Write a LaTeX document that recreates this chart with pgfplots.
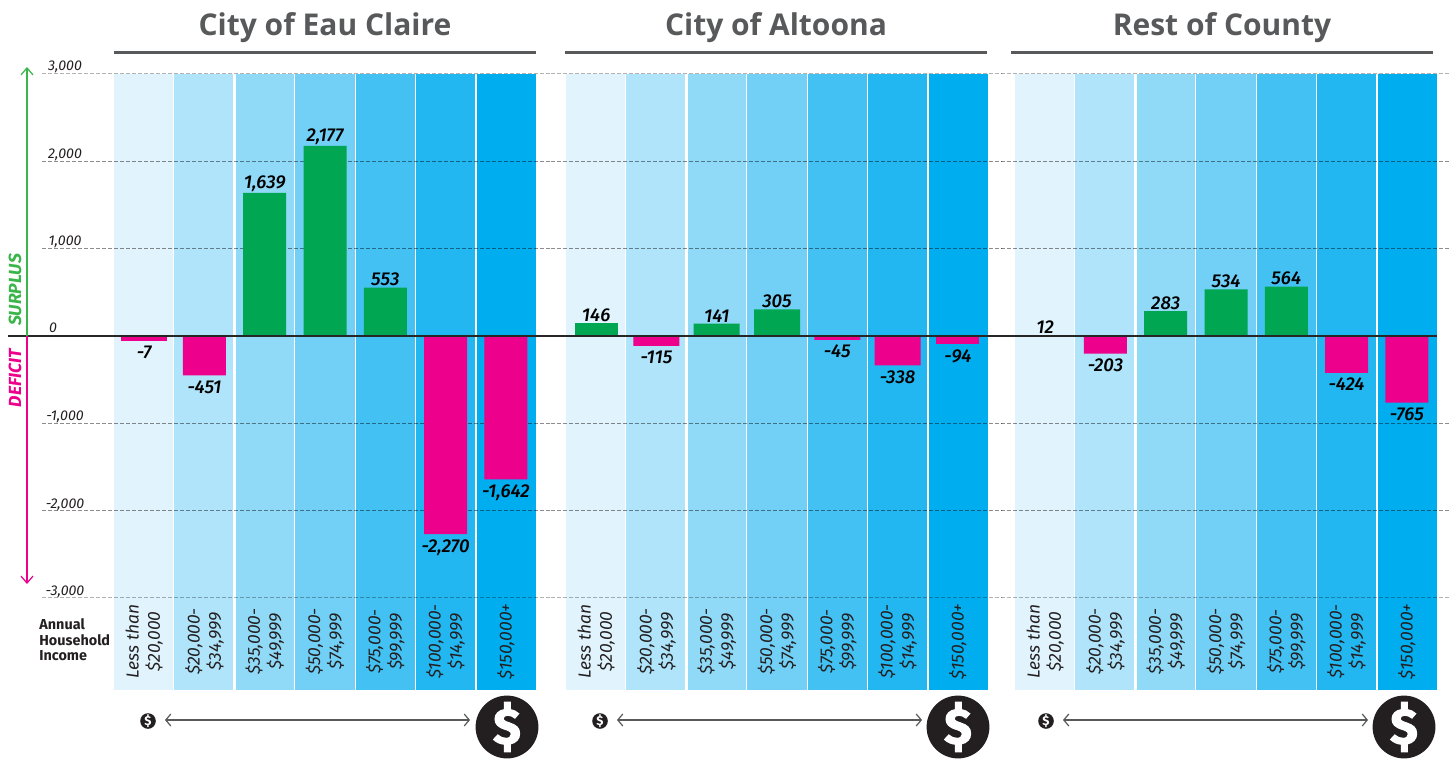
\documentclass[border=0pt]{standalone}
\usepackage{pgfplots}
\pgfplotsset{compat=1.18}
\usetikzlibrary{arrows.meta}
\usepackage{fontspec}
\setmainfont{Fira Sans}
\newfontfamily\titlefont{Open Sans}
\newfontfamily\valfont[ItalicFont={Fira Sans Medium Italic}]{Fira Sans Medium}
\newfontfamily\heavy[FakeBold=2.5]{Fira Sans}
\definecolor{c0}{HTML}{E1F4FD}
\definecolor{c1}{HTML}{B0E4FA}
\definecolor{c2}{HTML}{91DAF7}
\definecolor{c3}{HTML}{72CFF5}
\definecolor{c4}{HTML}{44C1F3}
\definecolor{c5}{HTML}{23B7F1}
\definecolor{c6}{HTML}{00AEEF}
\definecolor{gbar}{HTML}{00A651}
\definecolor{mbar}{HTML}{EC008C}
\definecolor{garrow}{HTML}{39B54A}
\definecolor{dk}{HTML}{58595B}
\definecolor{ink}{HTML}{231F20}
\pgfplotsset{
  panel/.style={
    anchor=south west, scale only axis, width=211pt, height=308pt,
    xmin=-0.5, xmax=6.5, ymin=-4055, ymax=3000,
    axis lines=none, clip=false,
  },
  col/.style={draw=none, fill=#1, forget plot, mark=none},
  gl/.style={black, opacity=0.45, line width=0.35pt, dash pattern=on 1.8pt off 1.2pt, forget plot, mark=none},
  gll/.style={black, opacity=0.3, line width=0.5pt, dash pattern=on 1.8pt off 1.2pt, forget plot, mark=none},
  vals/.style={
    ybar, bar shift=0pt, bar width=21.5pt, draw=none, fill=#1, forget plot, mark=none,
    point meta=explicit symbolic,
    nodes near coords={\pgfplotspointmeta},
    nodes near coords style={font=\fontsize{9.3}{10}\selectfont\valfont\itshape, black, inner sep=0.6pt, anchor=south},
  },
  neg/.style={
    vals=mbar,
    nodes near coords style={anchor=north, inner sep=2.4pt},
  },
}
\newcommand\columns{%
  \addplot[col=c0] coordinates {(-0.5,-4055)(0.48,-4055)(0.48,3000)(-0.5,3000)} --cycle;
  \addplot[col=c1] coordinates {(0.50,-4055)(1.48,-4055)(1.48,3000)(0.50,3000)} --cycle;
  \addplot[col=c2] coordinates {(1.52,-4055)(2.48,-4055)(2.48,3000)(1.52,3000)} --cycle;
  \addplot[col=c3] coordinates {(2.51,-4055)(3.49,-4055)(3.49,3000)(2.51,3000)} --cycle;
  \addplot[col=c4] coordinates {(3.52,-4055)(4.49,-4055)(4.49,3000)(3.52,3000)} --cycle;
  \addplot[col=c5] coordinates {(4.51,-4055)(5.49,-4055)(5.49,3000)(4.51,3000)} --cycle;
  \addplot[col=c6] coordinates {(5.52,-4055)(6.50,-4055)(6.50,3000)(5.52,3000)} --cycle;
}
\newcommand\grid[2]{%
  \addplot[gll] coordinates {(#1,3000)(#2,3000)};
  \addplot[gl] coordinates {(#1,2000)(#2,2000)};
  \addplot[gl] coordinates {(#1,1000)(#2,1000)};
  \addplot[gl] coordinates {(#1,-1000)(#2,-1000)};
  \addplot[gl] coordinates {(#1,-2000)(#2,-2000)};
  \addplot[gll] coordinates {(#1,-3000)(#2,-3000)};
}
\newcommand\inclabels{%
  \node[lab] at (axis cs:0,-3500) {Less than\\\$20,000};
  \node[lab] at (axis cs:1,-3500) {\$20,000-\\\$34,999};
  \node[lab] at (axis cs:2,-3500) {\$35,000-\\\$49,999};
  \node[lab] at (axis cs:3,-3500) {\$50,000-\\\$74,999};
  \node[lab] at (axis cs:4,-3500) {\$75,000-\\\$99,999};
  \node[lab] at (axis cs:5,-3500) {\$100,000-\\\$14,999};
  \node[lab] at (axis cs:6,-3500) {\$150,000+};
}
\tikzset{lab/.style={rotate=90, align=center, font=\fontsize{8.7}{10.6}\selectfont\itshape, text=ink, inner sep=0pt}}
\begin{document}
\begin{tikzpicture}
\useasboundingbox (0,0) rectangle (725pt,-379.5pt);
% Eau Claire
\begin{axis}[panel, at={(57pt,-345pt)}]
  \columns
  \grid{-1.694}{6.749}
  \addplot[vals=gbar] coordinates {(2,1639)[1,639] (3,2177)[2,177] (4,553)[553]};
  \addplot[neg] coordinates {(1,-451)[-451] (5,-2270)[-2,270] (6,-1642)[-1,642]};
  \addplot[neg, bar width=23pt] coordinates {(0,-55)[-7]};
  \inclabels
\end{axis}
% Altoona
\begin{axis}[panel, at={(283pt,-345pt)}]
  \columns
  \grid{-0.749}{6.716}
  \addplot[vals=gbar] coordinates {(0,146)[146]};
  \addplot[vals=gbar, bar width=23pt] coordinates {(2,141)[141] (3,305)[305]};
  \addplot[neg, bar width=23pt] coordinates {(1,-115)[-115] (4,-45)[-45] (5,-338)[-338]};
  \addplot[neg] coordinates {(6,-94)[-94]};
  \inclabels
\end{axis}
% Rest of County
\begin{axis}[panel, at={(507.5pt,-345pt)}]
  \columns
  \grid{-0.732}{6.716}
  \addplot[vals=gbar, bar width=23pt] coordinates {(0,12)[12]};
  \addplot[vals=gbar] coordinates {(2,283)[283] (3,534)[534] (4,564)[564]};
  \addplot[neg] coordinates {(1,-203)[-203] (5,-424)[-424] (6,-765)[-765]};
  \inclabels
\end{axis}
\begin{scope}[x=0.5pt,y=-0.5pt]
  \draw[black!85, line width=0.65pt] (8,336) -- (1437,336);
  % titles
  \foreach \cx/\t in {325/City of Eau Claire, 776/City of Altoona, 1222/Rest of County}
    \node[text=dk, font=\fontsize{15}{18}\selectfont\titlefont\bfseries, inner sep=0pt] at (\cx,28) {\t};
  \foreach \a/\b in {114/536, 565/987, 1011/1433}
    \draw[dk, line width=1.5pt] (\a,53) -- (\b,53);
  % y tick labels
  \foreach \y/\l in {67/{3,000}, 155/{2,000}, 242/{1,000}, 417/{-1,000}, 505/{-2,000}, 592/{-3,000}}
    \node[text=ink, font=\fontsize{7.1}{8}\selectfont\itshape, inner sep=0pt] at (65,\y) {\l};
  \node[text=ink, font=\fontsize{7.1}{8}\selectfont\itshape, inner sep=0pt] at (53,328) {0};
  % surplus / deficit arrows
  \draw[garrow, line width=0.6pt, -{Straight Barb[length=3.5pt,width=6pt]}] (27,336) -- (27,67);
  \draw[mbar, line width=0.6pt, -{Straight Barb[length=3.5pt,width=6pt]}] (27,336) -- (27,584);
  \node[rotate=90, text=garrow, font=\fontsize{8.8}{10}\selectfont\bfseries\itshape, inner sep=0pt] at (15,290) {SURPLUS};
  \node[rotate=90, text=mbar, font=\fontsize{8.8}{10}\selectfont\bfseries\itshape, inner sep=0pt] at (15,378) {DEFICIT};
  % income caption
  \node[anchor=west, align=left, text=ink, font=\fontsize{7.2}{7.8}\selectfont\bfseries, inner sep=0pt] at (39,640) {Annual\\Household\\Income};
  % income scale
  \foreach \s/\x/\bx in {148/165/507, 600/617/958, 1046/1063/1404}{
    \fill[ink] (\s,721) circle (3.9pt);
    \node[text=white, font=\fontsize{6.5}{7}\selectfont\bfseries, inner sep=0pt] at (\s,721) {\$};
    \draw[dk, line width=0.6pt, {Straight Barb[length=2.5pt,width=6pt]}-{Straight Barb[length=2.5pt,width=6pt]}] (\x,720) -- (\x+305,720);
    \fill[ink] (\bx,727) circle (15.7pt);
    \node[text=white, font=\fontsize{25}{30}\selectfont\heavy\bfseries, inner sep=0pt] at (\bx,727) {\$};
  }
\end{scope}
\end{tikzpicture}
\end{document}
